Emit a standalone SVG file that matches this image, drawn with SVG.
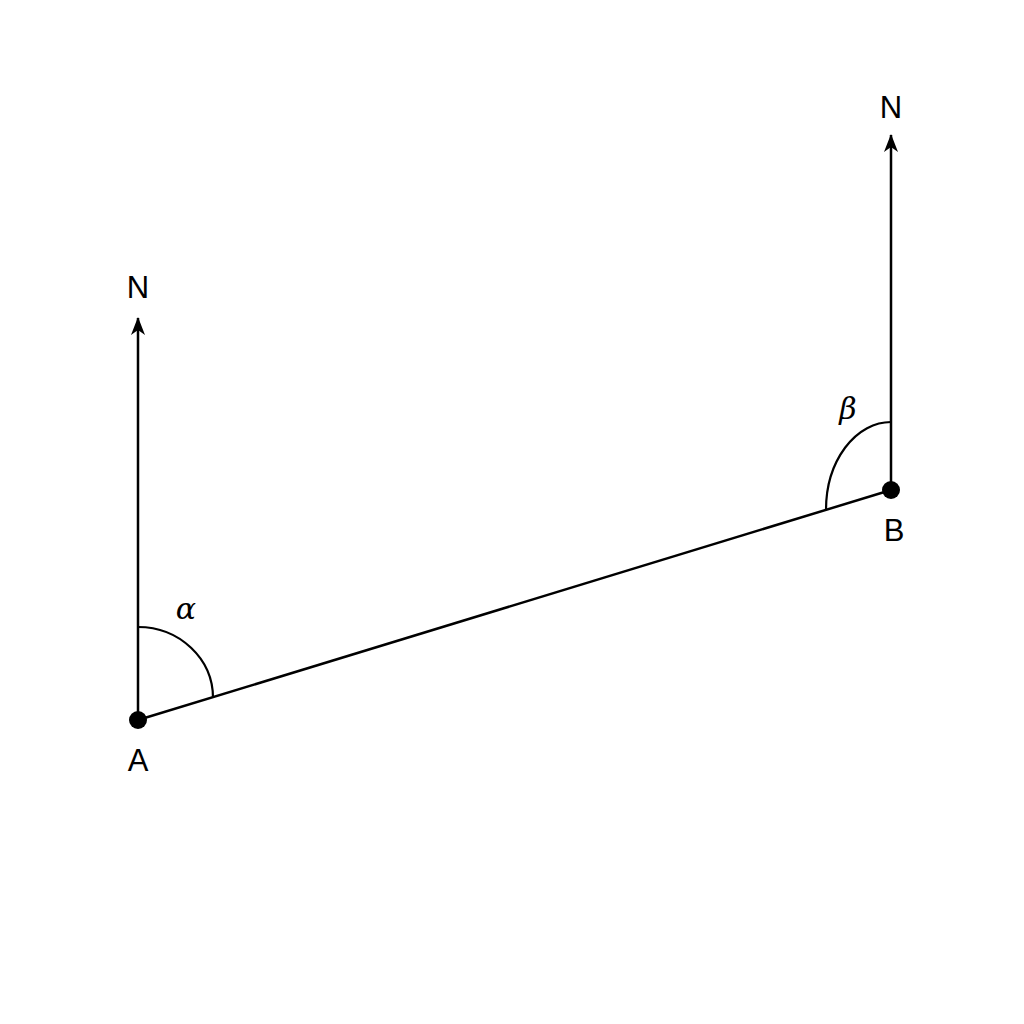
<svg xmlns="http://www.w3.org/2000/svg" width="1024" height="1024" viewBox="0 0 1024 1024">
<style>
.ln{stroke:#000;stroke-width:2.5;fill:none}
.arc{stroke:#000;stroke-width:2.2;fill:none}
.lbl{font-family:"Liberation Sans",Arial,sans-serif;font-size:31px;fill:#000;text-anchor:middle}
.gr{font-family:"DejaVu Serif","Liberation Serif",serif;font-style:italic;font-size:30px;fill:#000;text-anchor:middle}
</style>
<defs>
<marker id="arr" viewBox="0 0 18 14" refX="17" refY="7" markerWidth="18" markerHeight="14" markerUnits="userSpaceOnUse" orient="auto">
<path d="M0,0 L18,7 L0,14 L5,7 Z" fill="#000"/>
</marker>
</defs>
<rect width="1024" height="1024" fill="#fff"/>
<g id="connectors">
<line class="ln" x1="138" y1="720" x2="138" y2="318" marker-end="url(#arr)"/>
<line class="ln" x1="891" y1="490" x2="891" y2="135" marker-end="url(#arr)"/>
<line class="ln" x1="138" y1="720" x2="891" y2="490"/>
<path class="arc" d="M138,627 A75,71 0 0 1 213,698"/>
<path class="arc" d="M891,422 A65,88 0 0 0 826,510"/>
</g>
<g id="nodeA">
<circle cx="138" cy="720" r="9" fill="#000"/>
<text class="lbl" x="138" y="771">A</text>
<text class="lbl" x="138" y="298">N</text>
<text class="gr" x="186" y="619">α</text>
</g>
<g id="nodeB">
<circle cx="891" cy="490" r="9" fill="#000"/>
<text class="lbl" x="894" y="541">B</text>
<text class="lbl" x="891" y="118">N</text>
<text class="gr" x="848" y="419">β</text>
</g>
</svg>
